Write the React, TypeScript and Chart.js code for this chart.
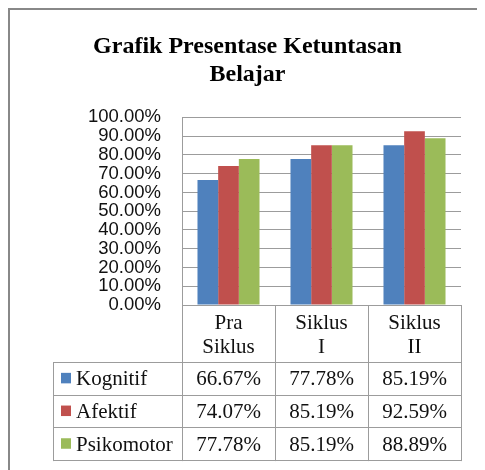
import React, { useEffect, useRef } from 'react';
import { Chart, registerables } from 'chart.js';

Chart.register(...registerables);

// ---- data ----
const titleLines: string[] = ['Grafik Presentase Ketuntasan', 'Belajar'];
const categories: string[][] = [['Pra', 'Siklus'], ['Siklus', 'I'], ['Siklus', 'II']];
const seriesNames: string[] = ['Kognitif', 'Afektif', 'Psikomotor'];
const kognitif: number[] = [66.67, 77.78, 85.19];
const afektif: number[] = [74.07, 85.19, 92.59];
const psikomotor: number[] = [77.78, 85.19, 88.89];
const seriesColors: string[] = ['#4F81BD', '#C0504D', '#9BBB59'];
const yMin = 0;
const yMax = 100;
const yStep = 10;

const fmt = (v: number) => v.toFixed(2) + '%';

const LINE = '#9c9c9c';
const TEXT = '#111111';
const SERIF = '"Liberation Serif", "Times New Roman", serif';
const SANS = '"Liberation Sans", Arial, sans-serif';

const tablePlugin = {
  id: 'dataTable',
  afterDraw(chart: any) {
    const { ctx, chartArea } = chart;
    const xs = chart.scales.x;
    const n = categories.length;
    const colW = (chartArea.right - chartArea.left) / n;
    const top = chartArea.bottom;
    const headerH = 57;
    const rowH = 32.7;
    const headerBottom = top + headerH;
    const bottom = headerBottom + rowH * seriesNames.length;
    const legendLeft = 43;

    ctx.save();
    ctx.strokeStyle = LINE;
    ctx.lineWidth = 1;
    const hl = (x1: number, x2: number, y: number) => {
      const yy = Math.round(y) + 0.5;
      ctx.beginPath();
      ctx.moveTo(x1, yy);
      ctx.lineTo(x2 + 1, yy);
      ctx.stroke();
    };
    const vl = (x: number, y1: number, y2: number) => {
      const xx = Math.round(x) + 0.5;
      ctx.beginPath();
      ctx.moveTo(xx, y1);
      ctx.lineTo(xx, y2 + 1);
      ctx.stroke();
    };

    // axis line + table verticals
    vl(chartArea.left, chartArea.top, bottom);
    for (let i = 1; i <= n; i++) vl(chartArea.left + colW * i, top, bottom);
    vl(legendLeft, headerBottom, bottom);
    hl(chartArea.left, chartArea.right, top);
    for (let r = 0; r <= seriesNames.length; r++) {
      hl(legendLeft, chartArea.right, headerBottom + r * rowH);
    }

    // header text
    ctx.fillStyle = TEXT;
    ctx.font = `21px ${SERIF}`;
    ctx.textAlign = 'center';
    ctx.textBaseline = 'alphabetic';
    categories.forEach((lines, i) => {
      const cx = xs.getPixelForValue(i);
      lines.forEach((ln, j) => {
        ctx.fillText(ln, cx, top + 24 + j * 24);
      });
    });

    // rows
    const allSeries = [kognitif, afektif, psikomotor];
    allSeries.forEach((vals, r) => {
      const mid = headerBottom + rowH * (r + 0.5);
      const base = mid + 7;
      // legend key
      ctx.fillStyle = seriesColors[r];
      ctx.fillRect(51, mid - 5.5, 10, 10.5);
      ctx.fillStyle = TEXT;
      ctx.textAlign = 'left';
      ctx.fillText(seriesNames[r], 66, base);
      ctx.textAlign = 'center';
      vals.forEach((v, i) => {
        ctx.fillText(fmt(v), xs.getPixelForValue(i), base);
      });
    });
    ctx.restore();
  },
};

export default function App() {
  const ref = useRef<HTMLCanvasElement | null>(null);

  useEffect(() => {
    if (!ref.current) return;
    const chart = new Chart(ref.current, {
      type: 'bar',
      data: {
        labels: categories,
        datasets: [
          { label: seriesNames[0], data: kognitif, backgroundColor: seriesColors[0] },
          { label: seriesNames[1], data: afektif, backgroundColor: seriesColors[1] },
          { label: seriesNames[2], data: psikomotor, backgroundColor: seriesColors[2] },
        ],
      },
      options: {
        responsive: false,
        animation: false,
        devicePixelRatio: 1,
        layout: { padding: { top: 0, left: 24, right: 24, bottom: 165 } },
        datasets: { bar: { categoryPercentage: 0.667, barPercentage: 1 } },
        plugins: {
          legend: { display: false },
          tooltip: { enabled: false },
          title: {
            display: true,
            text: titleLines,
            color: '#000',
            font: { family: SERIF, size: 24, weight: 'bold', lineHeight: 1.17 },
            padding: { top: 22.5, bottom: 28.7 },
          },
        },
        scales: {
          x: { display: false },
          y: {
            min: yMin,
            max: yMax,
            border: { display: false },
            grid: { color: LINE, lineWidth: 1, drawTicks: false },
            ticks: {
              stepSize: yStep,
              autoSkip: false,
              padding: 21,
              color: TEXT,
              font: { family: SANS, size: 18.5 },
              callback: (v: any) => fmt(Number(v)),
            },
            afterFit: (scale: any) => {
              scale.width = 148;
            },
          },
        },
      },
      plugins: [tablePlugin],
    });
    return () => chart.destroy();
  }, []);

  return (
    <div
      style={{
        width: 475,
        height: 460,
        borderTop: '2px solid #888888',
        borderLeft: '2px solid #888888',
        background: '#fff',
      }}
    >
      <canvas ref={ref} width={475} height={460} style={{ display: 'block', width: 475, height: 460 }} />
    </div>
  );
}
